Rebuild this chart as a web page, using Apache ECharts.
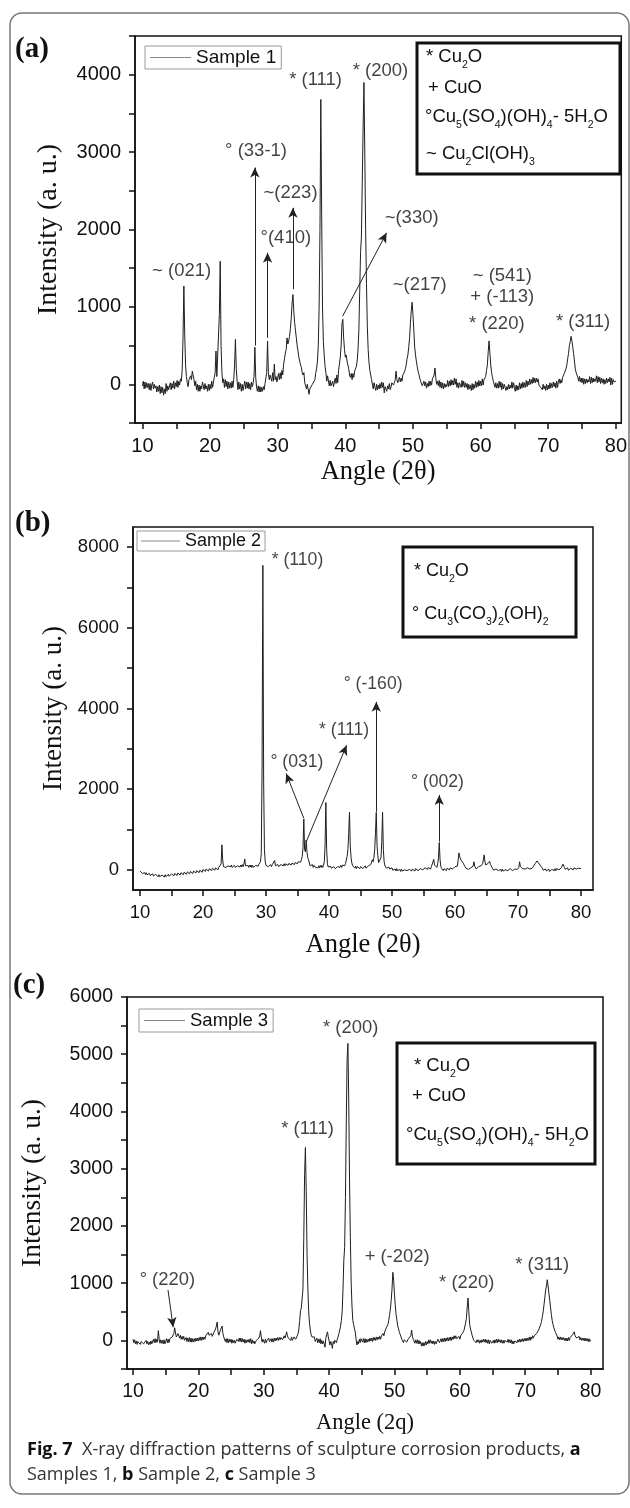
<!DOCTYPE html>
<html><head><meta charset="utf-8">
<script src="https://cdn.jsdelivr.net/npm/echarts@6/dist/echarts.min.js"></script>
<style>html,body{margin:0;padding:0;background:#fff}#c{width:630px;height:1508px}</style>
</head><body><div id="c"></div>
<script>
// ---------- DATA ----------
// Step-scan: angles start at 10 deg, step 0.125 deg; one row = one degree (8 readings)
const angleStart = 10;
const angleStep = 0.125;

const intensity1 = [
 -20,40,-60,30,-50,20,-40,10,        // 10
 -70,10,-80,-10,30,-60,0,-50,        // 11
 -20,-100,-30,-90,-10,-120,-30,-110, // 12
 -40,-140,-60,-120,10,-90,-20,-70,   // 13
 -80,20,-70,10,-50,40,-60,20,        // 14
 -30,50,-40,40,-10,70,40,180,        // 15
 600,1270,650,250,100,20,-30,60,     // 16
 40,110,60,170,150,60,-20,40,        // 17
 -70,0,-90,-10,-90,-20,-60,30,       // 18
 20,-70,10,-60,-20,-90,0,-80,        // 19
 0,-60,40,-40,30,90,150,430,         // 20
 100,80,120,900,1590,500,150,20,     // 21
 70,-40,60,-30,40,-60,30,-50,        // 22
 20,-50,40,-40,60,250,580,200,       // 23
 40,-70,30,-60,10,-90,0,-80,         // 24
 -20,40,-60,30,-50,30,-60,10,        // 25
 -70,30,-30,20,100,480,90,-40,       // 26
 -90,-20,-100,-30,-100,-40,-90,-30,  // 27
 -70,10,20,150,560,150,60,120,       // 28
 120,40,150,40,260,60,100,30,        // 29
 30,140,60,150,70,180,120,260,       // 30
 330,400,450,600,520,560,620,720,    // 31
 850,1050,1160,950,800,700,600,500,  // 32
 430,350,300,250,220,150,120,150,    // 33
 20,-20,-60,0,-20,-130,-60,-40,      // 34
 -80,0,20,-20,60,150,200,300,        // 35
 500,1000,2000,3680,2200,1000,550,380, // 36
 230,150,40,110,90,-20,50,-20,       // 37
 -40,40,-30,30,80,10,120,20,         // 38
 180,260,350,500,780,840,600,450,    // 39
 350,380,300,250,200,120,90,140,     // 40
 60,140,90,170,150,230,300,450,      // 41
 700,1200,1700,1900,2600,3300,3900,3000, // 42
 2000,1300,750,450,280,180,120,60,   // 43
 40,-60,20,-40,-80,0,-70,-10,        // 44
 -60,10,-50,30,-40,20,-110,-30,      // 45
 -30,-90,-20,-60,10,-70,-40,20,      // 46
 40,-10,20,60,170,60,20,60,          // 47
 90,30,80,40,120,100,160,200,        // 48
 250,330,380,480,600,800,950,1060,   // 49
 900,700,480,380,300,230,170,130,    // 50
 80,40,20,-20,-30,40,-20,30,         // 51
 -50,10,-30,40,-20,40,-10,70,        // 52
 60,120,210,80,0,40,-20,50,          // 53
 -40,30,-50,20,-60,10,-40,0,         // 54
 -30,50,-30,40,-20,60,-10,50,        // 55
 -10,80,0,70,-40,20,-50,20,          // 56
 30,-40,50,-30,40,-40,20,-40,        // 57
 10,-70,0,-60,-10,-80,10,-70,        // 58
 0,-50,40,-40,30,-30,50,-20,         // 59
 40,-20,70,-10,60,80,100,180,        // 60
 250,420,560,400,250,150,90,40,      // 61
 20,-40,20,-50,10,-50,40,-40,        // 62
 30,-70,10,-60,0,-40,-80,-30,        // 63
 -70,0,-60,-10,-50,30,-50,20,        // 64
 -40,-90,-10,-80,-20,-70,20,-60,     // 65
 10,-50,30,-40,20,-40,50,-30,        // 66
 40,-10,70,0,60,10,90,20,            // 67
 80,20,80,30,70,-10,0,-40,           // 68
 -30,-70,0,-60,-20,-80,0,-70,        // 69
 -10,-60,20,-50,10,-40,30,-30,       // 70
 20,-50,40,-40,30,70,10,60,          // 71
 20,90,80,140,120,200,250,330,       // 72
 400,500,550,620,560,480,400,300,    // 73
 200,150,130,90,40,100,30,80,        // 74
 20,80,0,70,10,70,20,60,             // 75
 30,100,10,90,20,80,30,70,           // 76
 40,110,20,100,30,90,10,80,          // 77
 20,70,0,60,10,80,20,70,             // 78
 30,90,-10,80,0,60,30,50,            // 79
 40                                  // 80
];

const intensity2 = [
 -30,-70,-40,-90,-50,-100,-70,-120,     // 10
 -70,-120,-80,-130,-90,-140,-100,-150,  // 11
 -100,-150,-110,-160,-110,-150,-120,-170, // 12
 -120,-170,-130,-180,-130,-170,-140,-180, // 13
 -120,-170,-130,-160,-110,-160,-120,-150, // 14
 -100,-140,-110,-150,-90,-130,-100,-140,  // 15
 -80,-120,-90,-130,-70,-110,-80,-120,   // 16
 -60,-100,-70,-110,-50,-90,-60,-100,    // 17
 -40,-80,-50,-90,-30,-70,-40,-80,       // 18
 -20,-60,-30,-70,-10,-50,-20,-60,       // 19
 10,-30,0,-40,20,-20,10,-30,            // 20
 30,-10,20,-20,40,0,30,-10,             // 21
 50,10,40,0,60,20,70,150,               // 22
 620,250,80,120,110,60,90,50,           // 23
 100,60,120,70,120,60,100,60,           // 24
 110,60,100,50,100,60,110,70,           // 25
 120,70,130,80,140,270,100,60,          // 26
 60,110,60,120,70,120,60,110,           // 27
 60,100,60,110,80,130,90,140,           // 28
 150,200,400,2500,7550,2200,500,200,    // 29
 110,70,120,80,120,70,130,80,           // 30
 130,90,120,230,100,140,80,130,         // 31
 80,120,90,130,90,140,100,150,          // 32
 100,150,110,160,110,160,120,170,       // 33
 120,170,130,180,130,180,140,190,       // 34
 150,200,170,220,190,260,330,550,       // 35
 1260,500,450,740,450,300,250,170,      // 36
 100,140,100,130,60,110,100,60,         // 37
 40,90,50,100,50,110,60,110,            // 38
 60,110,200,600,1670,500,150,70,        // 39
 100,50,90,40,80,30,80,40,              // 40
 30,70,40,80,50,100,60,110,             // 41
 60,120,80,130,100,160,200,330,         // 42
 500,900,1425,600,300,170,100,70,       // 43
 100,40,90,30,80,40,90,30,              // 44
 80,40,90,30,70,50,100,40,              // 45
 70,50,100,60,100,130,160,250,          // 46
 200,300,500,900,1425,600,350,180,      // 47
 150,200,300,700,1425,500,200,100,      // 48
 80,40,70,20,70,20,50,0,                // 49
 50,-10,30,-30,20,-30,30,-20,           // 50
 20,-20,10,-40,20,-30,10,-40,           // 51
 0,-30,20,-20,20,-30,10,-30,            // 52
 10,-30,20,-10,20,-30,30,-10,           // 53
 30,-20,20,-10,30,-10,40,0,             // 54
 40,0,50,10,50,10,60,20,                // 55
 60,20,80,40,100,260,120,80,            // 56
 80,60,150,300,680,250,80,30,           // 57
 20,-20,30,-10,30,-20,40,0,             // 58
 40,0,50,10,50,20,60,30,                // 59
 80,50,120,90,250,420,320,350,          // 60
 230,260,200,150,100,60,40,20,          // 61
 60,10,50,20,50,90,60,90,               // 62
 200,90,50,20,40,20,80,60,              // 63
 60,100,80,150,250,370,200,120,         // 64
 100,120,160,140,210,130,100,60,        // 65
 40,-10,30,-30,20,-20,30,-20,           // 66
 20,-20,10,-40,20,-30,10,-40,           // 67
 0,-30,20,-20,20,-10,30,-10,            // 68
 30,-20,20,-10,20,0,30,10,              // 69
 40,60,200,80,40,70,30,60,              // 70
 70,20,60,10,50,10,40,20,               // 71
 40,60,40,80,100,130,160,200,           // 72
 220,180,170,160,130,90,60,40,          // 73
 -10,30,-20,20,-30,10,-10,20,           // 74
 -40,0,-30,10,-30,20,-20,30,            // 75
 -20,30,0,30,0,40,20,50,                // 76
 80,140,100,60,10,40,20,50,             // 77
 -10,30,0,40,10,40,0,50,                // 78
 10,50,20,50,10,40,20,40,               // 79
 30                                     // 80
];

const intensity3 = [
 20,-40,10,-60,-10,-70,-20,-50,         // 10
 -10,-70,-20,-50,0,-60,-30,-80,         // 11
 0,-60,-20,-80,-30,-70,-10,-60,         // 12
 -30,20,-40,30,-40,20,-30,170,          // 13
 20,-50,10,-50,0,-60,10,-60,            // 14
 -20,30,-40,20,-40,30,20,60,            // 15
 60,90,120,220,130,60,80,120,           // 16
 120,40,90,20,70,20,70,0,               // 17
 0,50,-20,40,-20,50,-30,40,             // 18
 -30,30,-30,30,-20,40,-10,40,           // 19
 -10,50,0,60,0,60,10,60,                // 20
 20,80,100,60,140,90,60,110,            // 21
 120,70,80,140,150,200,250,320,         // 22
 150,90,100,180,200,250,120,60,         // 23
 40,-20,30,-40,30,-40,20,-30,           // 24
 20,-50,10,-40,0,-50,-30,20,            // 25
 30,-20,40,-20,40,-30,30,-30,           // 26
 20,-50,10,-40,10,-30,20,-40,           // 27
 30,-60,10,-50,-10,-60,-50,0,           // 28
 10,-20,40,80,170,60,-30,20,            // 29
 20,-50,20,-40,0,-30,40,-20,            // 30
 -20,30,-30,30,-30,40,-10,40,           // 31
 0,50,0,50,10,50,60,10,                 // 32
 20,80,40,90,150,80,40,70,              // 33
 70,0,60,0,10,60,70,20,                 // 34
 40,80,120,200,350,520,570,600,         // 35
 900,1800,2900,3370,2600,1500,900,500,  // 36
 300,180,100,60,40,90,60,-20,           // 37
 -20,40,-40,20,-40,30,-60,0,            // 38
 -60,-10,-40,-120,40,100,150,60,        // 39
 30,-80,-20,-60,-140,-20,-60,0,         // 40
 0,-40,20,60,120,180,250,350,           // 41
 500,900,1400,1620,2500,3800,4900,5190, // 42
 4200,2800,1800,1000,600,350,280,200,   // 43
 150,20,-80,-20,-60,20,-40,30,          // 44
 20,-30,30,-40,30,-40,20,-30,           // 45
 20,-20,40,-10,40,-20,50,0,             // 46
 50,0,60,10,60,20,70,20,                // 47
 80,50,120,80,150,180,220,250,          // 48
 280,350,450,550,700,900,1190,1050,     // 49
 800,600,450,350,250,200,140,120,       // 50
 60,20,50,-40,10,-20,10,-30,            // 51
 -30,30,40,60,80,180,60,20,             // 52
 0,-50,10,-50,10,-60,0,-60,             // 53
 -20,-100,-40,-100,-40,-90,-20,-80,     // 54
 -20,-60,10,-50,10,-50,-10,-60,         // 55
 -10,-70,-20,-60,-20,20,20,-40,         // 56
 -40,30,-30,30,-20,40,-20,40,           // 57
 -10,50,-10,50,0,60,0,60,               // 58
 20,80,30,80,30,60,20,70,               // 59
 20,80,60,120,120,170,200,300,          // 60
 380,580,740,500,280,200,150,90,        // 61
 60,0,30,0,-40,10,-30,10,               // 62
 -50,0,-40,10,-30,20,-30,20,            // 63
 -40,10,-50,10,-60,0,-10,-50,           // 64
 -50,0,-50,10,-40,20,-40,20,            // 65
 -30,10,-40,10,-50,0,-50,0,             // 66
 -30,20,-30,20,-40,10,-40,10,           // 67
 -60,-10,-60,-10,-40,10,-40,10,         // 68
 -30,20,-30,20,-20,30,-20,30,           // 69
 -10,40,-10,40,0,60,0,60,               // 70
 20,80,40,80,50,100,120,150,            // 71
 150,200,220,280,330,420,500,620,       // 72
 750,880,950,1060,950,820,700,580,      // 73
 450,350,280,220,180,140,120,80,        // 74
 20,60,10,60,10,50,10,50,               // 75
 0,40,-10,40,-10,50,0,50,               // 76
 80,50,100,90,150,80,100,40,            // 77
 70,20,70,10,50,0,40,0,                 // 78
 40,-10,40,-10,30,-20,30,-20,           // 79
 10                                     // 80
];

// peak labels: [angle, intensity, text]
const labelsA = [[15.8,1462,'~ (021)'],[26.8,3010,'° (33-1)'],[31.9,2473,'~(223)'],[31.2,1892,'°(410)'],[35.6,3935,'* (111)'],[45.2,4050,'* (200)'],[49.8,2150,'~(330)'],[51.0,1290,'~(217)'],[63.2,1405,'~ (541)'],[63.2,1133,'+ (-113)'],[62.4,785,'* (220)'],[75.15,804,'* (311)']];
const labelsB = [[35.0,7670,'* (110)'],[34.9,2680,'° (031)'],[42.4,3464,'* (111)'],[47.0,4600,'° (-160)'],[57.2,2185,'° (002)']];
const labelsC = [[15.25,1065,'° (220)'],[36.7,3694,'* (111)'],[43.3,5468,'* (200)'],[50.4,1450,'+ (-202)'],[61.05,1010,'* (220)'],[72.6,1325,'* (311)']];

// arrows: [fromAngle, fromIntensity, toAngle, toIntensity]
const arrowsA = [[26.625,500,26.625,2800],[28.5,600,28.5,1700],[32.25,1230,32.25,2280],[39.6,880,46.1,1957]];
const arrowsB = [[36.0,1278,33.2,2390],[36.4,700,42.8,3090],[47.5,1440,47.5,4165],[57.5,700,57.5,1855]];
const arrowsC = [[15.35,880,16.15,230]];

// ticks and tick labels
const xTickValues = [10,15,20,25,30,35,40,45,50,55,60,65,70,75,80];
const xTickLabels = [10,20,30,40,50,60,70,80];
const yTicksA = [-500,0,500,1000,1500,2000,2500,3000,3500,4000,4500];
const yLabelsA = [0,1000,2000,3000,4000];
const yTicksB = [0,1000,2000,3000,4000,5000,6000,7000,8000];
const yLabelsB = [0,2000,4000,6000,8000];
const yTicksC = [-500,0,500,1000,1500,2000,2500,3000,3500,4000,4500,5000,5500,6000];
const yLabelsC = [0,1000,2000,3000,4000,5000,6000];

// ---------- CHART ----------
const SANS = 'Liberation Sans', SERIF = 'Liberation Serif';
const chart = echarts.init(document.getElementById('c'), null, {renderer:'canvas'});
const toPairs = arr => arr.map((v, i) => [angleStart + i * angleStep, v]);

const panels = [
  {grid:{left:135, top:36, width:488, height:387}, xr:[8.9,80.8], yr:[-500,4500], yt:yTicksA, yl:yLabelsA,
   fs:20, name:'Angle (2θ)', nfs:26.5, ngap:36, yname:'Intensity (a. u.)', ynfs:28, yngap:72},
  {grid:{left:133, top:527, width:460, height:363}, xr:[8.89,81.9], yr:[-500,8500], yt:yTicksB, yl:yLabelsB,
   fs:18.5, name:'Angle (2θ)', nfs:26.5, ngap:42, yname:'Intensity (a. u.)', ynfs:27, yngap:66},
  {grid:{left:127, top:997, width:476, height:372}, xr:[9.08,81.9], yr:[-500,6000], yt:yTicksC, yl:yLabelsC,
   fs:19.5, name:'Angle (2q)', nfs:22.5, ngap:43, yname:'Intensity (a. u.)', ynfs:27.5, yngap:80}
];

const grids = [], xAxes = [], yAxes = [];
panels.forEach((p, i) => {
  grids.push(Object.assign({show:true, borderColor:'#111', borderWidth:1.5, backgroundColor:'transparent'}, p.grid));
  xAxes.push({type:'value', gridIndex:i, min:p.xr[0], max:p.xr[1],
    axisLine:{show:true, onZero:false, lineStyle:{color:'#111', width:1.5}},
    axisTick:{show:true, inside:false, length:6, customValues:xTickValues, lineStyle:{color:'#111', width:1.5}},
    axisLabel:{show:true, customValues:xTickLabels, margin:13, color:'#111', fontFamily:SANS, fontSize:p.fs, formatter:v=>String(v)},
    splitLine:{show:false},
    name:p.name, nameLocation:'middle', nameGap:p.ngap,
    nameTextStyle:{fontFamily:SERIF, fontSize:p.nfs, color:'#111'}});
  yAxes.push({type:'value', gridIndex:i, min:p.yr[0], max:p.yr[1],
    axisLine:{show:true, onZero:false, lineStyle:{color:'#111', width:1.5}},
    axisTick:{show:true, inside:false, length:6, customValues:p.yt, lineStyle:{color:'#111', width:1.5}},
    axisLabel:{show:true, customValues:p.yl, margin:14, color:'#111', fontFamily:SANS, fontSize:p.fs, formatter:v=>String(v)},
    splitLine:{show:false},
    name:p.yname, nameLocation:'middle', nameGap:p.yngap, nameRotate:90,
    nameTextStyle:{fontFamily:SERIF, fontSize:p.ynfs, color:'#111'}});
});

const samples = [intensity1, intensity2, intensity3];
const names = ['Sample 1','Sample 2','Sample 3'];
const labelSets = [labelsA, labelsB, labelsC];
const arrowSets = [arrowsA, arrowsB, arrowsC];
const annFs = [18.5, 17.6, 18.4];

const series = [];
samples.forEach((d, i) => {
  series.push({type:'line', name:names[i], xAxisIndex:i, yAxisIndex:i, data:toPairs(d),
    symbol:'none', showSymbol:false, lineStyle:{color:'#1e1e1e', width:1}, itemStyle:{color:'#1e1e1e'},
    animation:false, z:3,
    markLine:{silent:true, animation:false, symbol:['none','arrow'], symbolSize:[7,10],
      label:{show:false}, lineStyle:{color:'#222', width:1, type:'solid'}, emphasis:{disabled:true},
      data:arrowSets[i].map(a => [{coord:[a[0],a[1]]},{coord:[a[2],a[3]]}])}});
  series.push({type:'scatter', name:'labels'+i, xAxisIndex:i, yAxisIndex:i, symbolSize:0, clip:false,
    silent:true, animation:false, z:5,
    data:labelSets[i].map(a => ({value:[a[0],a[1]], name:a[2]})),
    label:{show:true, position:'inside', formatter:'{b}', color:'#111', fontFamily:SANS, fontSize:annFs[i]}});
});

const legendDefs = [
  {name:'Sample 1', left:145, top:46, pad:[2,5,2,5], w:41, fs:19},
  {name:'Sample 2', left:137, top:531, pad:[1,4,1,4], w:39, fs:18},
  {name:'Sample 3', left:139, top:1009, pad:[2,5,2,5], w:41, fs:18.5}
];
const legends = legendDefs.map(l => ({show:true, left:l.left, top:l.top, orient:'horizontal', padding:l.pad,
  borderColor:'#9a9a9a', borderWidth:1, itemWidth:l.w, itemHeight:1.2, itemGap:0, selectedMode:false,
  icon:'rect', itemStyle:{color:'#8a8a8a', borderWidth:0},
  data:[{name:l.name, icon:'rect'}],
  textStyle:{fontFamily:SANS, fontSize:l.fs, color:'#111', lineHeight:l.fs}}));

// chemical keys (rich text with subscripts)
function keyText(x, y, text, fs) {
  return {type:'text', x:x, y:y, z:10, style:{text:text, fontFamily:SANS, fontSize:fs, fill:'#111',
    verticalAlign:'middle', align:'left', lineHeight:28,
    rich:{s:{fontFamily:SANS, fontSize:10.5, fill:'#111', lineHeight:11, verticalAlign:'bottom'}}}};
}
const capStyle = {fontFamily:'Open Sans', fontSize:18, fill:'#333', verticalAlign:'middle',
  rich:{b:{fontFamily:'Open Sans', fontWeight:'bold', fontSize:18, fill:'#111'}}};
const graphics = [
  {type:'rect', shape:{x:10, y:13, width:619, height:1481, r:12}, style:{fill:'none', stroke:'#777', lineWidth:1.5}, z:1},
  {type:'text', x:15, y:50, style:{text:'(a)', fontFamily:SERIF, fontWeight:'bold', fontSize:29, fill:'#111', verticalAlign:'middle'}},
  {type:'text', x:15, y:524, style:{text:'(b)', fontFamily:SERIF, fontWeight:'bold', fontSize:29, fill:'#111', verticalAlign:'middle'}},
  {type:'text', x:13, y:986, style:{text:'(c)', fontFamily:SERIF, fontWeight:'bold', fontSize:29, fill:'#111', verticalAlign:'middle'}},
  {type:'rect', shape:{x:417, y:43, width:203, height:131}, style:{fill:'#fff', stroke:'#111', lineWidth:3}, z:9},
  keyText(426, 57, '* Cu{s|2}O', 18.5),
  keyText(428, 88, '+ CuO', 18.5),
  keyText(425, 117, '°Cu{s|5}(SO{s|4})(OH){s|4}- 5H{s|2}O', 18.5),
  keyText(426, 154, '~ Cu{s|2}Cl(OH){s|3}', 18.5),
  {type:'rect', shape:{x:403, y:547, width:173, height:90}, style:{fill:'#fff', stroke:'#111', lineWidth:3}, z:9},
  keyText(414, 571, '* Cu{s|2}O', 18),
  keyText(412, 614, '° Cu{s|3}(CO{s|3}){s|2}(OH){s|2}', 18),
  {type:'rect', shape:{x:397, y:1043, width:198, height:121}, style:{fill:'#fff', stroke:'#111', lineWidth:3}, z:9},
  keyText(414, 1066, '* Cu{s|2}O', 18.5),
  keyText(412, 1096, '+ CuO', 18.5),
  keyText(406, 1135, '°Cu{s|5}(SO{s|4})(OH){s|4}- 5H{s|2}O', 18.5),
  {type:'text', x:27, y:1450, style:Object.assign({text:'{b|Fig. 7}  X-ray diffraction patterns of sculpture corrosion products, {b|a}'}, capStyle)},
  {type:'text', x:27, y:1475, style:Object.assign({text:'Samples 1, {b|b} Sample 2, {b|c} Sample 3'}, capStyle)}
];

chart.setOption({
  animation:false,
  backgroundColor:'#fff',
  grid:grids, xAxis:xAxes, yAxis:yAxes,
  legend:legends,
  series:series,
  graphic:graphics
});
</script></body></html>
